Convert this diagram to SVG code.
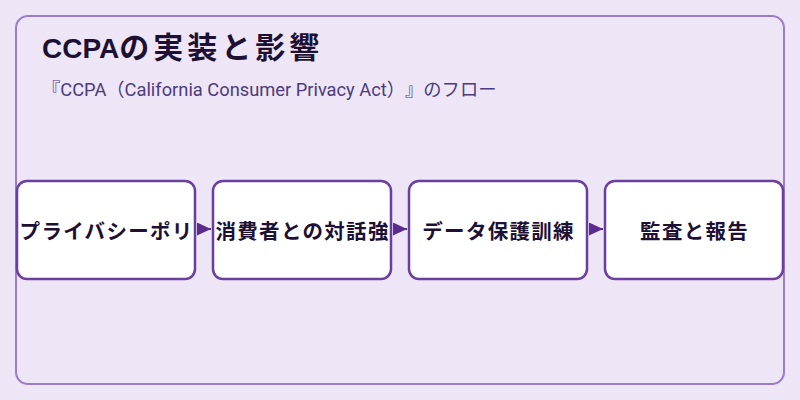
<svg xmlns="http://www.w3.org/2000/svg" width="800" height="400" viewBox="0 0 800 400">
<style>
text{text-spacing-trim:space-all}
.frame{fill:#eee6f6;stroke:#9b7ccc;stroke-width:2}
.node rect{fill:#ffffff;stroke:#6b3fa0;stroke-width:2.5}
.node text{font-family:"Noto Sans CJK JP","Noto Sans",sans-serif;font-size:20.5px;font-weight:bold;fill:#1e1033;text-anchor:middle;dominant-baseline:central;letter-spacing:1.3px}
.title{font-family:"Liberation Sans","Noto Sans CJK JP",sans-serif;font-size:28px;font-weight:bold;fill:#1e1033}
.sub{font-family:Roboto,"Noto Sans CJK JP",sans-serif;font-size:18.3px;fill:#4b3b7d}
.conn line{stroke:#5a2d8c;stroke-width:2}
</style>
<defs>
<marker id="ah" viewBox="0 0 14 13" refX="14" refY="6.5" markerWidth="14" markerHeight="13" orient="auto" markerUnits="userSpaceOnUse">
<path d="M0,0 L14,6.5 L0,13 z" fill="#5a2d8c"/>
</marker>
</defs>
<rect width="800" height="400" fill="#eee6f6"/>
<rect class="frame" x="16" y="16" width="768" height="368" rx="12"/>
<text class="title" x="42" y="58"><tspan>CCPA</tspan><tspan style="font-family:'Noto Sans CJK JP',sans-serif;font-size:30px" letter-spacing="4">の実装と影響</tspan></text>
<text class="sub" x="42" y="96">『CCPA（California Consumer Privacy Act）』のフロー</text>
<g class="conn">
<line x1="197" y1="229" x2="211" y2="229" marker-end="url(#ah)"/>
<line x1="393" y1="229" x2="407" y2="229" marker-end="url(#ah)"/>
<line x1="589" y1="229" x2="603" y2="229" marker-end="url(#ah)"/>
</g>
<g id="node1" class="node"><rect x="17" y="181" width="178" height="98" rx="10"/><text x="106.6" y="230">プライバシーポリ</text></g>
<g id="node2" class="node"><rect x="213" y="181" width="178" height="98" rx="10"/><text x="302.6" y="230">消費者との対話強</text></g>
<g id="node3" class="node"><rect x="409" y="181" width="178" height="98" rx="10"/><text x="498.6" y="230">データ保護訓練</text></g>
<g id="node4" class="node"><rect x="605" y="181" width="178" height="98" rx="10"/><text x="694.6" y="230">監査と報告</text></g>
</svg>
